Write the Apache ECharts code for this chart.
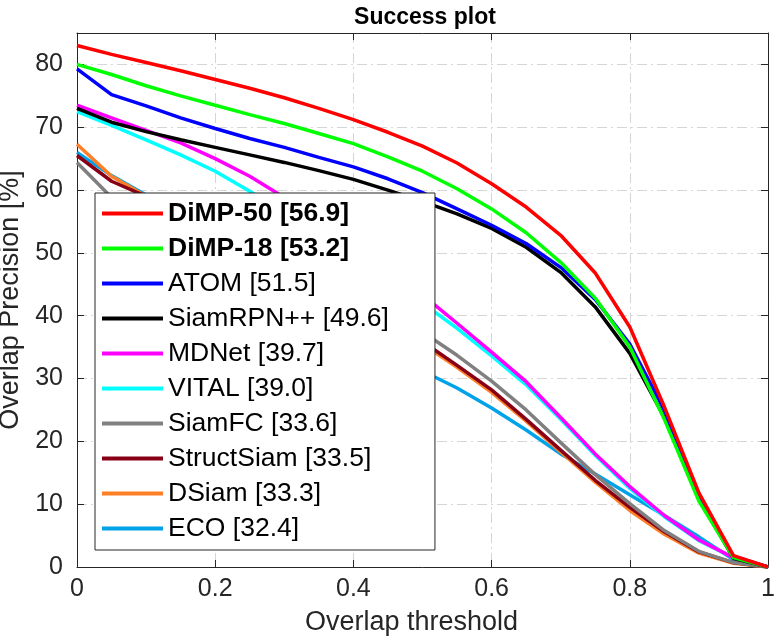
<!DOCTYPE html>
<html>
<head>
<meta charset="utf-8">
<script src="https://cdn.jsdelivr.net/npm/echarts@6/dist/echarts.min.js"></script>
<style>
  html, body { margin: 0; padding: 0; background: #fff; }
  #chart { width: 775px; height: 642px; }
</style>
</head>
<body>
<div id="chart"></div>
<script>
const thresholds = [0, 0.05, 0.1, 0.15, 0.2, 0.25, 0.3, 0.35, 0.4, 0.45, 0.5,
  0.55, 0.6, 0.65, 0.7, 0.75, 0.8, 0.85, 0.9, 0.95, 1];

const names = ["DiMP-50 [56.9]", "DiMP-18 [53.2]", "ATOM [51.5]", "SiamRPN++ [49.6]",
  "MDNet [39.7]", "VITAL [39.0]", "SiamFC [33.6]", "StructSiam [33.5]",
  "DSiam [33.3]", "ECO [32.4]"];
const colors = ["#ff0000", "#00ff00", "#0000ff", "#000000", "#ff00ff",
  "#00ffff", "#808080", "#880015", "#ff7f27", "#00a2e8"];
const boldNames = ["DiMP-50 [56.9]", "DiMP-18 [53.2]"];

const dimp50 = [83, 81.6, 80.3, 79, 77.6, 76.2, 74.7, 73, 71.2, 69.2, 67,
  64.3, 61, 57.3, 52.8, 46.8, 38.2, 25.5, 11.8, 1.8, 0];
const dimp18 = [80, 78.4, 76.6, 75, 73.5, 72, 70.6, 69, 67.4, 65.3, 63,
  60.2, 57, 53.2, 48.5, 42.8, 35, 23.5, 10.5, 1.5, 0];
const atom = [79.3, 75.2, 73.4, 71.5, 69.8, 68.2, 66.8, 65.2, 63.7, 61.8, 59.6,
  57, 54.4, 51.5, 47.7, 42.6, 35.5, 25, 11.3, 1.7, 0];
const siamrpn = [73, 70.8, 69.3, 68, 66.8, 65.6, 64.4, 63.1, 61.7, 60, 58.2,
  56.2, 53.9, 50.9, 46.9, 41.4, 34, 23.8, 10.8, 1.4, 0];
const mdnet = [73.5, 71.5, 69.5, 67.5, 65, 62.2, 58.8, 55.2, 51.4, 47.4, 43.3,
  38.8, 34.2, 29.5, 23.8, 18, 12.8, 8.2, 4.3, 1.5, 0];
const vital = [72.5, 70.3, 68, 65.6, 63, 59.8, 56.3, 52.7, 49.1, 45.4, 42,
  38, 33.6, 29, 23.5, 17.8, 12.5, 8, 4.2, 1.5, 0];
const siamfc = [64.4, 58.8, 56.5, 54.2, 51.9, 49.5, 47, 44.5, 42, 39.8, 37.4,
  33.7, 29.6, 25, 19.8, 14.7, 10.1, 5.8, 2.5, 0.7, 0];
const structsiam = [65.5, 61.4, 59, 56.1, 53.2, 50.3, 47.4, 44.6, 41.7, 38.8, 35.9,
  32.1, 28.2, 23.5, 18.6, 13.8, 9.5, 5.6, 2.4, 0.7, 0];
const dsiam = [67.3, 62.2, 59, 56, 53, 50.1, 47.2, 44.3, 41.4, 38.5, 35.5,
  31.8, 27.8, 23.2, 18.3, 13.5, 9, 5.2, 2.2, 0.6, 0];
const eco = [66, 62.3, 59.2, 55.7, 52.2, 48.7, 45.2, 41.6, 38.1, 34.6, 31.2,
  28.5, 25.3, 21.8, 18, 14.8, 11.5, 8.2, 4.8, 1.2, 0];

const values = [dimp50, dimp18, atom, siamrpn, mdnet, vital, siamfc, structsiam, dsiam, eco];

const axisColor = "#262626";
const font = "Liberation Sans, Arial, sans-serif";
const gridLine = { show: true, lineStyle: { color: "#d6d6d6", width: 1, type: [10, 4, 2, 4] } };

// plotted in reverse so DiMP-50 ends up on top
const series = names.map((name, i) => ({
  name: name,
  type: "line",
  data: thresholds.map((t, j) => [t, values[i][j]]),
  symbol: "none",
  lineStyle: { color: colors[i], width: 3.5 },
  itemStyle: { color: colors[i] },
  z: 10 - i,
})).reverse();

const chart = echarts.init(document.getElementById("chart"));
chart.setOption({
  animation: false,
  backgroundColor: "#fff",
  textStyle: { fontFamily: font },
  title: {
    text: "Success plot",
    left: 420,
    textAlign: "center",
    top: 1,
    textStyle: { fontSize: 23, fontWeight: "bold", color: "#000", fontFamily: font },
  },
  grid: { left: 77, right: 7, top: 33, bottom: 75, containLabel: false, outerBoundsMode: "none" },
  legend: {
    orient: "vertical",
    left: 95,
    top: 193,
    padding: [7, 46, 8, 7],
    backgroundColor: "#fff",
    borderColor: axisColor,
    borderWidth: 1,
    icon: "rect",
    itemWidth: 61,
    itemHeight: 4,
    itemGap: 8,
    z: 20,
    data: names.map((n) => ({
      name: n,
      textStyle: boldNames.includes(n) ? { fontWeight: "bold" } : {},
    })),
    textStyle: { fontSize: 26.5, color: "#000", fontFamily: font, lineHeight: 26 },
  },
  xAxis: [
    {
      type: "value",
      min: 0,
      max: 1,
      interval: 0.2,
      name: "Overlap threshold",
      nameLocation: "middle",
      nameGap: 42,
      nameTextStyle: { fontSize: 27, color: axisColor, fontFamily: font, padding: [0, 22, 0, 0] },
      axisLine: { show: true, onZero: false, lineStyle: { color: axisColor, width: 1 } },
      axisTick: { show: true, inside: true, length: 7, lineStyle: { color: axisColor } },
      axisLabel: { fontSize: 25, color: axisColor, margin: 10, fontFamily: font },
      splitLine: gridLine,
    },
    {
      type: "value",
      position: "top",
      min: 0,
      max: 1,
      interval: 0.2,
      axisLine: { show: true, onZero: false, lineStyle: { color: axisColor, width: 1 } },
      axisTick: { show: true, inside: true, length: 7, lineStyle: { color: axisColor } },
      axisLabel: { show: false },
      splitLine: { show: false },
    },
  ],
  yAxis: [
    {
      type: "value",
      min: 0,
      max: 85,
      interval: 10,
      name: "Overlap Precision [%]",
      nameLocation: "middle",
      nameGap: 46,
      nameTextStyle: { fontSize: 27, color: axisColor, fontFamily: font },
      axisLine: { show: true, onZero: false, lineStyle: { color: axisColor, width: 1 } },
      axisTick: { show: true, inside: true, length: 7, lineStyle: { color: axisColor } },
      axisLabel: { fontSize: 25, color: axisColor, margin: 14, showMaxLabel: false, fontFamily: font },
      splitLine: gridLine,
    },
    {
      type: "value",
      position: "right",
      min: 0,
      max: 85,
      interval: 10,
      axisLine: { show: true, onZero: false, lineStyle: { color: axisColor, width: 1 } },
      axisTick: { show: true, inside: true, length: 7, lineStyle: { color: axisColor } },
      axisLabel: { show: false },
      splitLine: { show: false },
    },
  ],
  series: series,
});
</script>
</body>
</html>
